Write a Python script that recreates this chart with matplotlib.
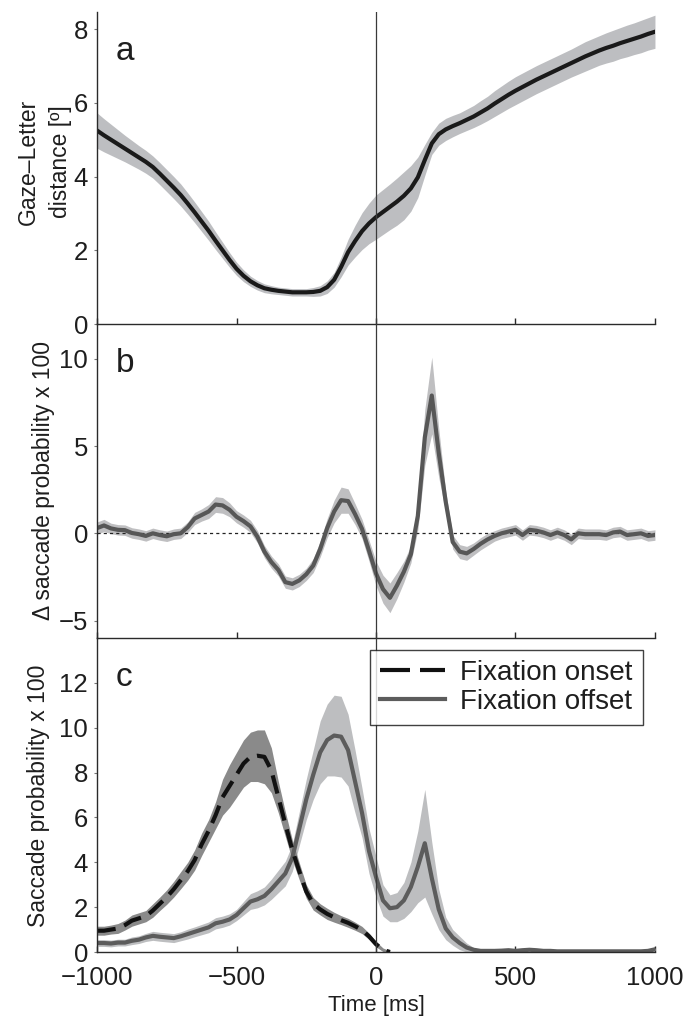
import matplotlib
matplotlib.use("Agg")
import matplotlib.pyplot as plt
from matplotlib.lines import Line2D
import numpy as np

plt.rcParams['font.family'] = ['Liberation Sans', 'DejaVu Sans']

# ---------------- data ----------------
# panel a: gaze-letter distance, 25 ms steps
t_a = np.arange(-1000, 1001, 25)
dist_mean = [5.25, 5.12, 5.0, 4.88, 4.76, 4.64, 4.52, 4.4, 4.26, 4.08,
             3.89, 3.7, 3.5, 3.27, 3.03, 2.78, 2.53, 2.26, 2.0, 1.74,
             1.5, 1.31, 1.16, 1.05, 0.97, 0.93, 0.9, 0.88, 0.86, 0.86,
             0.86, 0.87, 0.9, 1.0, 1.2, 1.55, 1.95, 2.25, 2.52, 2.73,
             2.9, 3.04, 3.18, 3.32, 3.48, 3.68, 3.98, 4.45, 4.9, 5.15,
             5.28, 5.37, 5.45, 5.54, 5.63, 5.74, 5.85, 5.98, 6.1, 6.22,
             6.33, 6.43, 6.53, 6.63, 6.72, 6.81, 6.9, 6.99, 7.08, 7.17,
             7.26, 7.34, 7.42, 7.49, 7.55, 7.62, 7.68, 7.74, 7.8, 7.87, 7.93]
dist_sem = [0.48, 0.45, 0.42, 0.39, 0.36, 0.34, 0.32, 0.31, 0.3, 0.3,
            0.3, 0.3, 0.3, 0.29, 0.28, 0.27, 0.26, 0.24, 0.22, 0.2,
            0.18, 0.16, 0.14, 0.13, 0.12, 0.11, 0.1, 0.1, 0.1, 0.1,
            0.1, 0.12, 0.14, 0.17, 0.2, 0.27, 0.35, 0.43, 0.5, 0.55,
            0.6, 0.61, 0.62, 0.64, 0.65, 0.62, 0.55, 0.42, 0.3, 0.3,
            0.3, 0.29, 0.28, 0.29, 0.3, 0.32, 0.33, 0.35, 0.36, 0.37,
            0.38, 0.38, 0.38, 0.38, 0.38, 0.38, 0.38, 0.38, 0.38, 0.39,
            0.4, 0.4, 0.4, 0.41, 0.42, 0.42, 0.43, 0.43, 0.44, 0.44, 0.45]

# panel b: delta saccade probability, 25 ms steps
t_b = np.arange(-1000, 1001, 25)
delta_mean = [0.3, 0.45, 0.28, 0.2, 0.18, 0.02, -0.05, -0.15, 0.0, -0.1,
              -0.17, -0.05, 0.0, 0.35, 0.85, 1.05, 1.25, 1.65, 1.6, 1.35,
              0.95, 0.7, 0.4, -0.2, -1.05, -1.65, -2.1, -2.8, -2.9, -2.7,
              -2.35, -1.85, -0.9, 0.3, 1.25, 1.9, 1.85, 1.1, 0.25, -1.0,
              -2.3, -3.2, -3.7, -3.0, -2.2, -1.2, 1.0, 5.5, 7.9, 4.6,
              1.8, -0.5, -1.05, -1.15, -0.9, -0.6, -0.35, -0.15, 0.0, 0.1,
              0.2, -0.1, 0.2, 0.15, 0.05, -0.1, 0.05, -0.1, -0.35, 0.0,
              -0.05, -0.05, -0.05, -0.1, 0.05, 0.1, -0.1, -0.05, 0.0, -0.15, -0.1]
delta_sem = [0.35, 0.35, 0.3, 0.3, 0.3, 0.3, 0.3, 0.3, 0.3, 0.3,
             0.3, 0.3, 0.3, 0.3, 0.35, 0.35, 0.4, 0.45, 0.45, 0.4,
             0.35, 0.35, 0.35, 0.35, 0.35, 0.35, 0.35, 0.35, 0.35, 0.35,
             0.35, 0.4, 0.45, 0.55, 0.65, 0.75, 0.7, 0.6, 0.55, 0.6,
             0.7, 0.8, 0.85, 0.75, 0.6, 0.5, 0.8, 1.6, 2.2, 1.4,
             0.6, 0.4, 0.4, 0.4, 0.35, 0.35, 0.35, 0.3, 0.3, 0.3,
             0.3, 0.3, 0.3, 0.3, 0.3, 0.3, 0.3, 0.3, 0.3, 0.3,
             0.3, 0.3, 0.3, 0.3, 0.3, 0.3, 0.3, 0.3, 0.3, 0.3, 0.3]

# panel c: saccade probability, fixation onset (ends at 50 ms)
t_on = np.arange(-1000, 51, 25)
onset_mean = [0.95, 0.95, 1.0, 1.05, 1.2, 1.4, 1.5, 1.6, 1.85, 2.15,
              2.45, 2.8, 3.2, 3.6, 4.1, 4.8, 5.4, 6.1, 6.9, 7.4,
              7.9, 8.4, 8.7, 8.75, 8.7, 8.1, 6.9, 5.7, 4.55, 3.6,
              2.7, 2.15, 1.9, 1.7, 1.55, 1.42, 1.3, 1.15, 0.98, 0.7,
              0.35, 0.1, 0.0]
onset_sem = [0.2, 0.2, 0.2, 0.22, 0.22, 0.25, 0.25, 0.25, 0.3, 0.3,
             0.32, 0.35, 0.38, 0.4, 0.45, 0.5, 0.5, 0.6, 0.8, 0.95,
             1.0, 1.05, 1.1, 1.15, 1.2, 1.0, 0.7, 0.55, 0.45, 0.38,
             0.3, 0.28, 0.25, 0.25, 0.22, 0.2, 0.2, 0.18, 0.16, 0.14,
             0.12, 0.08, 0.05]

# fixation offset
t_off = np.arange(-1000, 1001, 25)
offset_mean = [0.4, 0.4, 0.38, 0.42, 0.42, 0.5, 0.55, 0.65, 0.72, 0.68,
               0.65, 0.62, 0.7, 0.8, 0.9, 1.0, 1.1, 1.28, 1.35, 1.45,
               1.65, 1.95, 2.25, 2.35, 2.5, 2.8, 3.15, 3.5, 4.2, 5.5,
               6.8, 7.9, 8.9, 9.45, 9.65, 9.6, 9.0, 7.6, 6.2, 4.5,
               3.35, 2.3, 1.95, 2.0, 2.3, 2.9, 3.8, 4.85, 3.3, 1.9,
               1.05, 0.65, 0.4, 0.2, 0.1, 0.05, 0.05, 0.05, 0.06, 0.08,
               0.05, 0.08, 0.1, 0.08, 0.05, 0.05, 0.03, 0.03, 0.03, 0.03,
               0.03, 0.03, 0.03, 0.03, 0.03, 0.03, 0.03, 0.03, 0.03, 0.05, 0.12]
offset_sem = [0.15, 0.15, 0.15, 0.15, 0.15, 0.17, 0.17, 0.18, 0.2, 0.2,
              0.2, 0.2, 0.2, 0.22, 0.22, 0.23, 0.24, 0.25, 0.25, 0.25,
              0.25, 0.3, 0.35, 0.38, 0.4, 0.45, 0.5, 0.55, 0.6, 0.75,
              0.9, 1.1, 1.4, 1.6, 1.8, 1.8, 1.6, 1.4, 1.1, 1.0,
              0.9, 0.7, 0.6, 0.65, 0.8, 1.1, 1.6, 2.4, 1.6, 0.9,
              0.5, 0.35, 0.3, 0.2, 0.1, 0.05, 0.04, 0.04, 0.04, 0.04,
              0.04, 0.04, 0.04, 0.04, 0.04, 0.03, 0.03, 0.03, 0.03, 0.03,
              0.03, 0.03, 0.03, 0.03, 0.03, 0.03, 0.03, 0.03, 0.03, 0.04, 0.06]

x_ticks = [-1000, -500, 0, 500, 1000]
panel_letters = ['a', 'b', 'c']

# ---------------- figure ----------------
fig = plt.figure(figsize=(6.99, 10.17), dpi=100)
left, width = 0.1388, 0.7982
ax_a = fig.add_axes([left, 0.6814, width, 0.3066])
ax_b = fig.add_axes([left, 0.3727, width, 0.3087])
ax_c = fig.add_axes([left, 0.0639, width, 0.3088])

txt_col = '#1e1e1e'
spine_col = '#2a2a2a'


def band(ax, t, m, s, fill, line, clip0=False, **kw):
    m = np.asarray(m)
    s = np.asarray(s)
    lo = m - s
    if clip0:
        lo = np.clip(lo, 0, None)
    ax.fill_between(t, lo, m + s, color=fill, lw=0, zorder=2)
    return ax.plot(t, m, color=line, lw=3.0, zorder=3, solid_joinstyle='round',
                   dash_joinstyle='round', **kw)


band(ax_a, t_a, dist_mean, dist_sem, '#bdbec1', '#1a1a1a')
band(ax_b, t_b, delta_mean, delta_sem, '#bfbfc1', '#575757')
ax_b.axhline(0, color='#222222', lw=0.9, ls=(0, (2.5, 2.5)), zorder=2.5)
band(ax_c, t_off, offset_mean, offset_sem, '#bdbec0', '#5c5c5c', clip0=True)
band(ax_c, t_on, onset_mean, onset_sem, '#8a8a8a', '#111111', clip0=True,
     dashes=(4.5, 2.2))

for ax, ylim, yt, letter in zip([ax_a, ax_b, ax_c],
                                [(0, 8.46), (-6, 12), (0, 14)],
                                [[0, 2, 4, 6, 8], [-5, 0, 5, 10], [0, 2, 4, 6, 8, 10, 12]],
                                panel_letters):
    ax.patch.set_visible(False)
    ax.set_xlim(-1000, 1000)
    ax.set_ylim(*ylim)
    ax.set_yticks(yt)
    ax.set_xticks(x_ticks)
    ax.axvline(0, color='#3a3a3a', lw=0.9, zorder=4)
    for sp in ['top', 'right']:
        ax.spines[sp].set_visible(False)
    for sp in ['left', 'bottom']:
        ax.spines[sp].set_color(spine_col)
        ax.spines[sp].set_linewidth(1.0)
        ax.spines[sp].set_zorder(5)
    ax.tick_params(axis='x', direction='in', length=4, width=1.0, color=spine_col,
                   labelsize=18.5, pad=10, labelcolor=txt_col)
    ax.tick_params(axis='y', direction='out', length=2.5, width=0.8, color='#777777',
                   labelsize=18.5, pad=4, labelcolor=txt_col)
    ax.text(0.033, 0.846, letter, transform=ax.transAxes, fontsize=24,
            ha='left', va='baseline', color=txt_col)

ax_a.tick_params(axis='x', labelbottom=False)
ax_b.tick_params(axis='x', labelbottom=False)

ax_a.set_ylabel('Gaze\u2013Letter\ndistance [\u00ba]', fontsize=16.5, color=txt_col,
                linespacing=1.5)
ax_a.yaxis.set_label_coords(-0.045, 0.52)
ax_b.set_ylabel('\u0394 saccade probability x 100', fontsize=16.5, color=txt_col)
ax_b.yaxis.set_label_coords(-0.075, 0.5)
ax_c.set_ylabel('Saccade probability x 100', fontsize=16.5, color=txt_col)
ax_c.yaxis.set_label_coords(-0.084, 0.497)
ax_c.set_xlabel('Time [ms]', fontsize=16, color=txt_col, labelpad=4)

handles = [Line2D([], [], color='#111111', lw=3.0, dashes=(7.2, 2.4)),
           Line2D([], [], color='#5c5c5c', lw=3.0)]
leg = ax_c.legend(handles, ['Fixation onset', 'Fixation offset'],
                  loc='upper right', bbox_to_anchor=(0.978, 0.962), borderaxespad=0,
                  fontsize=20, frameon=True, fancybox=False, handlelength=2.34,
                  handletextpad=0.54, labelspacing=0.1, borderpad=0.36)
leg.get_frame().set_edgecolor('#111111')
leg.get_frame().set_linewidth(1.0)
leg.set_zorder(10)
for t in leg.get_texts():
    t.set_color(txt_col)

fig.savefig('out.png', dpi=100)
